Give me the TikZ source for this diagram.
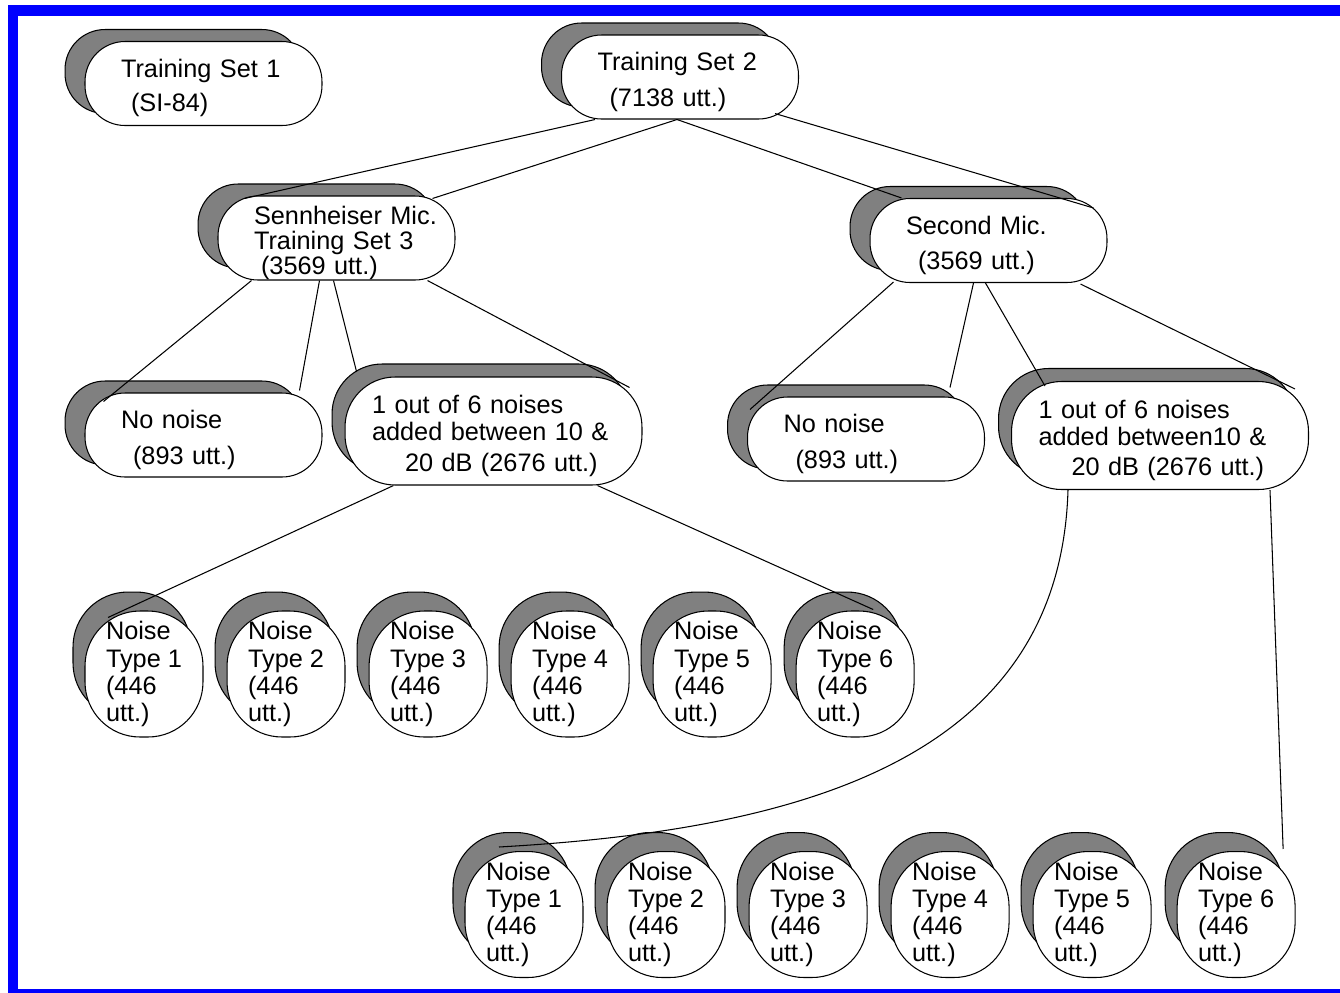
\documentclass[tikz,border=0pt]{standalone}
\usepackage{fontspec}
\setmainfont{Liberation Sans}
\usetikzlibrary{positioning, calc, shadows}

\newcommand{\firstline}{\rule{0pt}{16pt}}

\begin{document}
\begin{tikzpicture}[
    x=0.02cm, y=-0.02cm,
    every node/.style={font=\fontsize{14.4pt}{15.4pt}\selectfont},
    pill/.style={rectangle, draw=black, line width=0.6pt, fill=white, rounded corners=0.8cm, align=left, inner sep=0pt},
    setbox/.style={pill, minimum width=4.74cm, minimum height=1.68cm, text width=3.3cm, copy shadow={draw=black, fill=black!50, shadow xshift=-0.4cm, shadow yshift=0.24cm}},
    addbox/.style={pill, rounded corners=1cm, minimum width=5.94cm, minimum height=2.16cm, text width=4.86cm, copy shadow={draw=black, fill=black!50, shadow xshift=-0.26cm, shadow yshift=0.26cm}},
    noisebox/.style={pill, rounded corners=1.1cm, minimum width=2.36cm, minimum height=2.52cm, copy shadow={draw=black, fill=black!50, shadow xshift=-0.24cm, shadow yshift=0.38cm}},
    link/.style={draw=black, line width=0.6pt}
]
    \useasboundingbox (0,0) rectangle (1340,992);
    \draw [blue, line width=0.22cm] (13,10.5) rectangle (1370,994);

    % --- top level ---
    \node [setbox] (ts1) at (203.5,83.5) {\firstline Training Set 1\\[4pt]\hspace*{0.2cm}(SI-84)};
    \node [setbox] (ts2) at (680,77) {\firstline Training Set 2\\[5pt]\hspace*{0.24cm}(7138 utt.)};

    % --- microphones ---
    \node [setbox] (sen) at (336.5,238) {\firstline\mbox{Sennheiser Mic.}\\[-1pt]Training Set 3\\[-1pt]\hspace*{0.14cm}(3569 utt.)};
    \node [setbox] (sec) at (988.5,240.5) {\firstline Second Mic.\\[5pt]\hspace*{0.24cm}(3569 utt.)};

    % --- noise split ---
    \node [setbox] (nn1) at (203.5,435) {\firstline No noise\\[5pt]\hspace*{0.24cm}(893 utt.)};
    \node [addbox] (add1) at (493.5,431) {\firstline 1 out of 6 noises\\added between 10 \&\\[2pt]\hspace*{0.66cm}20 dB (2676 utt.)};
    \node [setbox] (nn2) at (866,439) {\firstline No noise\\[5pt]\hspace*{0.24cm}(893 utt.)};
    \node [addbox] (add2) at (1160,435.5) {\firstline 1 out of 6 noises\\added between10 \&\\[2pt]\hspace*{0.66cm}20 dB (2676 utt.)};

    % --- noise types, Sennheiser ---
    \node [noisebox] (n1a) at (144,674) {Noise\\Type 1\\(446\\utt.)};
    \node [noisebox, right=0.46cm of n1a] (n2a) {Noise\\Type 2\\(446\\utt.)};
    \node [noisebox, right=0.46cm of n2a] (n3a) {Noise\\Type 3\\(446\\utt.)};
    \node [noisebox, right=0.46cm of n3a] (n4a) {Noise\\Type 4\\(446\\utt.)};
    \node [noisebox, right=0.46cm of n4a] (n5a) {Noise\\Type 5\\(446\\utt.)};
    \node [noisebox, right=0.48cm of n5a] (n6a) {Noise\\Type 6\\(446\\utt.)};

    % --- noise types, second mic ---
    \node [noisebox] (n1b) at (524,914.5) {Noise\\Type 1\\(446\\utt.)};
    \node [noisebox, right=0.46cm of n1b] (n2b) {Noise\\Type 2\\(446\\utt.)};
    \node [noisebox, right=0.46cm of n2b] (n3b) {Noise\\Type 3\\(446\\utt.)};
    \node [noisebox, right=0.46cm of n3b] (n4b) {Noise\\Type 4\\(446\\utt.)};
    \node [noisebox, right=0.46cm of n4b] (n5b) {Noise\\Type 5\\(446\\utt.)};
    \node [noisebox, right=0.5cm of n5b] (n6b) {Noise\\Type 6\\(446\\utt.)};

    % --- connections ---
    \path [link] ($(ts2.south)+(-85,0)$) -- ($(sen.north)+(-92,3)$);
    \path [link] ($(ts2.south)+(-3,0)$) -- ($(sen.north)+(96,3)$);
    \path [link] ($(ts2.south)+(-3,0)$) -- ($(sec.north)+(-87,0)$);
    \path [link] ($(ts2.south)+(95,-6)$) -- ($(sec.north)+(105,10)$);

    \path [link] ($(sen.south)+(-85,0)$) -- ($(nn1.north)+(-100,9)$);
    \path [link] ($(sen.south)+(-17,0)$) -- ($(nn1.north)+(96,-2)$);
    \path [link] ($(sen.south)+(-3,0)$) -- ($(add1.north)+(-137,-5)$);
    \path [link] ($(sen.south)+(91,0)$) -- ($(add1.north)+(136,11)$);

    \path [link] ($(sec.south)+(-95,-1)$) -- ($(nn2.north)+(-116,13)$);
    \path [link] ($(sec.south)+(-15,0)$) -- ($(nn2.north)+(84,-9)$);
    \path [link] ($(sec.south)+(-3,0)$) -- ($(add2.north)+(-115,5)$);
    \path [link] ($(sec.south)+(92,1)$) -- ($(add2.north)+(135,8)$);

    \path [link] ($(add1.south)+(-100,0)$) -- ($(n1a.north)+(-36,7)$);
    \path [link] ($(add1.south)+(104,0)$) -- ($(n6a.north)+(18,-1)$);

    \path [link] ($(add2.south)+(-92,0)$) .. controls (1060,760) and (800,830) .. ($(n1b.north)+(-25,-4)$);
    \path [link] ($(add2.south)+(110,0)$) -- ($(n6b.north)+(47,-2)$);

\end{tikzpicture}
\end{document}
